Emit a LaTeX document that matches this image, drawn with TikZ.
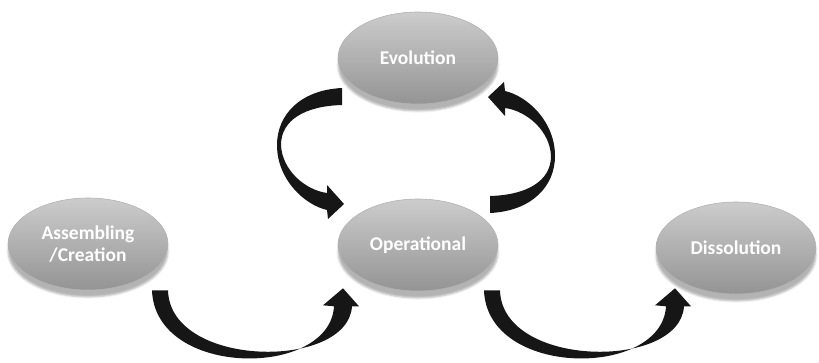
\documentclass[tikz,border=0pt]{standalone}
\usepackage{fontspec}
\setmainfont{Carlito}
\usetikzlibrary{shapes.geometric,shadows.blur,calc,positioning}

\definecolor{stageTop}{RGB}{204,204,204}
\definecolor{stageBottom}{RGB}{148,148,148}
\definecolor{stageRim}{RGB}{178,178,178}
\definecolor{flowBlack}{RGB}{22,22,22}

\tikzset{
  stage/.style={ellipse,minimum width=160pt,minimum height=92pt,inner sep=0pt,
    top color=stageTop,bottom color=stageBottom,draw=stageRim,line width=0.6pt,
    blur shadow={shadow xshift=0pt,shadow yshift=-7pt,shadow opacity=30},
    text=white,align=center,font=\bfseries\fontsize{19.5}{22}\selectfont},
  flow/.style={fill=flowBlack},
  % U-shaped arrow under two stages, origin at the middle of its tail
  cupflow/.pic={
    \fill[flow] (-8,0) .. controls (-5,88) and (170,88) .. (174,16)
      -- (163,15) -- (183,-2) -- (199,16) -- (192,16)
      .. controls (188,80) and (10,78) .. (8,0) -- cycle;
  },
  % C-shaped arrow of the loop, origin at the middle of its tail
  loopflow/.pic={
    \fill[flow] (0,-8) .. controls (-42,-6) and (-65,19) .. (-65,49)
      .. controls (-65,84) and (-37,109) .. (-15,114)
      -- (-14,123) -- (2,108) -- (-15,89) -- (-15,97)
      .. controls (-37,94) and (-60,74) .. (-61,49)
      .. controls (-61,24) and (-37,10) .. (0,9) -- cycle;
  }
}

\begin{document}
\begin{tikzpicture}[x=1pt,y=-1pt]
  \useasboundingbox (0,0) rectangle (819,362);

  \node[stage] (evo) at (418,58) {Evolution};
  \node[stage] (asm) at (88,244) {Assembling\\/Creation};
  \node[stage] (op) at (418,245) {Operational};
  \node[stage] (dis) at (736,248) {Dissolution};

  \pic at ($(asm.south)+(72,0)$) {cupflow};
  \pic at ($(op.south)+(74,-1)$) {cupflow};
  \pic at ($(evo.center)+(-76,38)$) {loopflow};
  \pic[rotate=180] at ($(op.center)+(72,-40)$) {loopflow};
\end{tikzpicture}
\end{document}
